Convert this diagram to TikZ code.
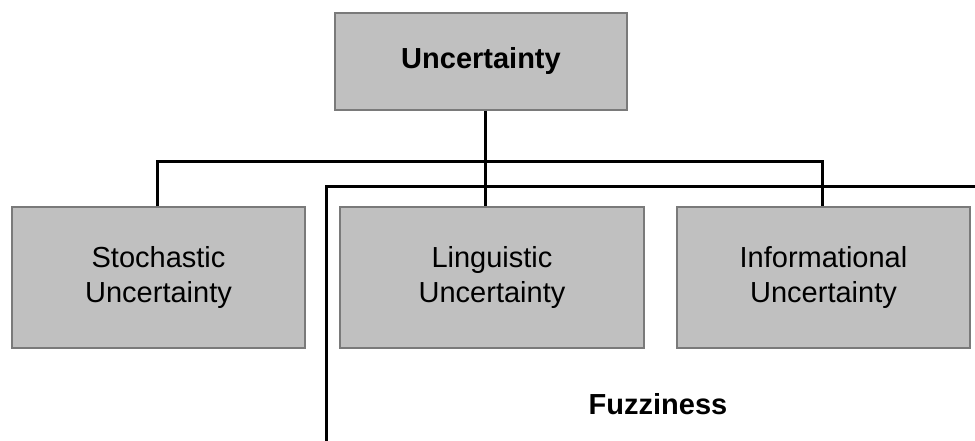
\documentclass[tikz,border=0pt]{standalone}
\usepackage{fontspec}
\setmainfont{Liberation Sans}
\definecolor{boxgray}{HTML}{C0C0C0}
\definecolor{edgegray}{HTML}{7A7A7A}
\begin{document}
\begin{tikzpicture}[x=1pt,y=-1pt,
  box/.style={draw=edgegray, line width=1.5pt, fill=boxgray, inner sep=0pt,
    align=center, font=\fontsize{29}{35}\selectfont},
  link/.style={line width=3pt, black}]
\useasboundingbox (0,0) rectangle (975,441);
% root node
\node[box, minimum width=292pt, minimum height=97pt,
  font=\fontsize{29}{35}\selectfont\bfseries] (top) at (481,61.5) {Uncertainty};
% three kinds of uncertainty
\node[box, minimum width=293pt, minimum height=141pt] (left) at (158.5,277.5)
  {Stochastic\\Uncertainty};
\node[box, minimum width=304pt, minimum height=141pt] (mid) at (492,277.5)
  {Linguistic\\Uncertainty};
\node[box, minimum width=293pt, minimum height=141pt] (right) at (823.5,277.5)
  {Informational\\Uncertainty};
% tree connectors
\coordinate (hub) at (485,162);
\draw[link] (hub |- top.south) -- (hub |- mid.north);
\draw[link] ([xshift=-1.5pt]left.north) |- (hub) -| ([xshift=-1.5pt]right.north);
% fuzziness bracket
\coordinate (fzCorner) at (326,187);
\coordinate (fzEnd) at (975,187);
\coordinate (fzBot) at (326,441);
\draw[link] (fzBot) -- (fzCorner) -- (fzEnd);
\node[font=\fontsize{29}{35}\selectfont\bfseries, inner sep=0pt] (fuzz) at (658,404) {Fuzziness};
\end{tikzpicture}
\end{document}
